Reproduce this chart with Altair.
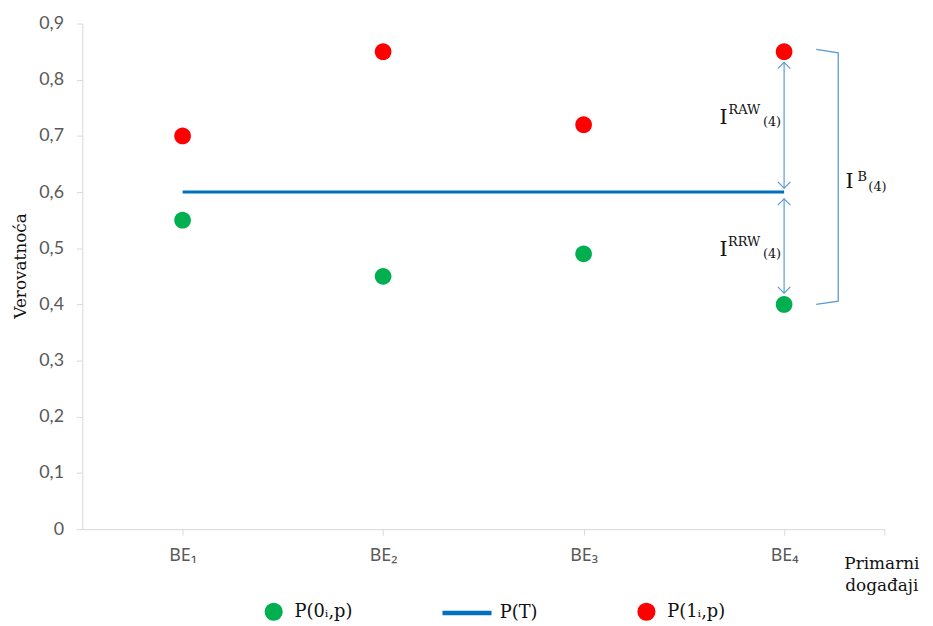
import json
import altair as alt
import pandas as pd

# ---------------- data ----------------
cat_index = [1, 2, 3, 4]
cat_labels = ["BE₁", "BE₂", "BE₃", "BE₄"]
p0 = [0.55, 0.45, 0.49, 0.40]          # P(0i,p)  green
p1 = [0.70, 0.85, 0.72, 0.85]          # P(1i,p)  red
pT = [0.60, 0.60, 0.60, 0.60]          # P(T)     blue line
series_names = ["P(0ᵢ,p)", "P(T)", "P(1ᵢ,p)"]
series_colors = ["#00b050", "#0070c0", "#ff0000"]
y_ticks = [0, 0.1, 0.2, 0.3, 0.4, 0.5, 0.6, 0.7, 0.8, 0.9]
x_ticks = [1, 2, 3, 4, 4.5]

# annotation geometry (in data units)
arrow_x = [4, 4]
arrow_top = [0.831, 0.588]
arrow_bot = [0.607, 0.420]
bracket_x = [4.16, 4.27, 4.27, 4.16]
bracket_y = [0.854, 0.848, 0.406, 0.400]
label_raw_y = 0.722
label_rrw_y = 0.487
label_b_y = 0.607

ANN = "#5b9bd5"
SERIF = "DejaVu Serif"
SANS = "Lato, Noto Sans"
NARROW = "Liberation Sans Narrow, Noto Sans"
# symbol shapes (unit box -1..1); the circle is a path so chart dots and
# legend dots share one symbol size with the wide line symbol
CIRCLE = "M -0.42 0 A 0.42 0.42 0 1 0 0.42 0 A 0.42 0.42 0 1 0 -0.42 0 Z"
LINE_SYMBOL = "M -1.8 -0.075 L 0.6 -0.075 L 0.6 0.075 L -1.8 0.075 Z"
SYMBOL_SIZE = 1600

# ---------------- tables ----------------
pts = pd.DataFrame(
    {"x": cat_index * 2, "y": p0 + p1,
     "series": [series_names[0]] * 4 + [series_names[2]] * 4}
)
line_df = pd.DataFrame({"x": cat_index, "y": pT, "series": [series_names[1]] * 4})
arrows = pd.DataFrame({"x": arrow_x, "y": arrow_bot, "y2": arrow_top})
tips_up = pd.DataFrame({"x": arrow_x, "y": arrow_top})
tips_down = pd.DataFrame({"x": arrow_x, "y": arrow_bot})
bracket = pd.DataFrame({"x": bracket_x, "y": bracket_y, "o": [0, 1, 2, 3]})

xscale = alt.Scale(domain=[0.5, 4.5], nice=False, zero=False)
yscale = alt.Scale(domain=[0, 0.9], nice=False)

label_map = json.dumps(cat_labels, ensure_ascii=False)
x_axis = alt.Axis(
    values=x_ticks,
    labelExpr=f"datum.value <= 4 ? {label_map}[datum.value - 1] : ''",
    grid=False, domainColor="#d9d9d9", tickColor="#d9d9d9", tickSize=6,
    labelPadding=12, labelFont=NARROW, labelFontSize=18, labelColor="#595959",
    title=["Primarni", "događaji"], titleFont=SERIF, titleFontSize=17,
    titleFontWeight="normal", titleColor="#111", titleX=806, titleY=40,
    titleAlign="center", titleBaseline="alphabetic", titleLineHeight=22,
)
y_axis = alt.Axis(
    values=y_ticks,
    labelExpr="datum.value == 0 ? '0' : replace(format(datum.value, '.1f'), '.', ',')",
    grid=False, domainColor="#d9d9d9", tickColor="#d9d9d9", tickSize=6,
    labelPadding=13, labelFont=SANS, labelFontSize=18, labelColor="#595959",
    title="Verovatnoća", titleFont=SERIF, titleFontSize=17, titleFontWeight="normal",
    titleColor="#111", titleX=-57, titleY=244, titleAlign="center",
    titleBaseline="alphabetic", titleAngle=270,
)

X = alt.X("x:Q", scale=xscale, axis=x_axis)
Y = alt.Y("y:Q", scale=yscale, axis=y_axis)

legend = alt.Legend(
    title=None, orient="none", legendX=172, legendY=572, direction="horizontal",
    labelFont=SERIF, labelFontSize=18, labelColor="#111", labelOffset=0,
    columnPadding=88, symbolOpacity=1, symbolSize=SYMBOL_SIZE,
)
color_scale = alt.Scale(domain=series_names, range=series_colors)
shape_scale = alt.Scale(domain=series_names, range=[CIRCLE, LINE_SYMBOL, CIRCLE])

line = alt.Chart(line_df).mark_line(strokeWidth=3).encode(
    x=X, y=Y, color=alt.Color("series:N", scale=color_scale, legend=legend)
)
points = alt.Chart(pts).mark_point(filled=True, opacity=1, size=SYMBOL_SIZE).encode(
    x=X, y=Y,
    color=alt.Color("series:N", scale=color_scale, legend=legend),
    shape=alt.Shape("series:N", scale=shape_scale, legend=legend),
)
arrow_lines = alt.Chart(arrows).mark_rule(color=ANN, strokeWidth=1.2).encode(
    x=X, y=Y, y2="y2:Q"
)
up = alt.Chart(tips_up).mark_point(
    shape="M -1 1 L 0 0 L 1 1", filled=False, size=160, color=ANN, strokeWidth=1.2, opacity=1
).encode(x=X, y=Y)
down = alt.Chart(tips_down).mark_point(
    shape="M -1 -1 L 0 0 L 1 -1", filled=False, size=160, color=ANN, strokeWidth=1.2, opacity=1
).encode(x=X, y=Y)
brk = alt.Chart(bracket).mark_line(color=ANN, strokeWidth=1.3).encode(
    x=X, y=Y, order="o:Q"
)


def txt(text, x, y, size, dx, dy, align):
    df = pd.DataFrame({"x": [x], "y": [y], "t": [text]})
    return alt.Chart(df).mark_text(
        font=SERIF, fontSize=size, color="#111", align=align,
        baseline="alphabetic", dx=dx, dy=dy,
    ).encode(x=X, y=Y, text="t:N")


labels = [
    txt("I", 4, label_raw_y, 20.5, -57, 0, "right"),
    txt("RAW", 4, label_raw_y, 13, -24, -10, "right"),
    txt("(4)", 4, label_raw_y, 13, -3, 2, "right"),
    txt("I", 4, label_rrw_y, 20.5, -57, 0, "right"),
    txt("RRW", 4, label_rrw_y, 13, -24, -10, "right"),
    txt("(4)", 4, label_rrw_y, 13, -3, 2, "right"),
    txt("I", 4, label_b_y, 20.5, 62, 0, "left"),
    txt("B", 4, label_b_y, 13, 74, -7, "left"),
    txt("(4)", 4, label_b_y, 13, 85, 3, "left"),
]

chart = alt.layer(line, arrow_lines, up, down, brk, points, *labels).properties(
    width=809, height=510,
    autosize=alt.AutoSizeParams(type="none"),
    padding={"left": 75, "top": 13, "right": 41, "bottom": 95},
    background="white",
).configure_view(stroke=None)

chart.save("out.html", embed_options={"renderer": "svg", "actions": False})
